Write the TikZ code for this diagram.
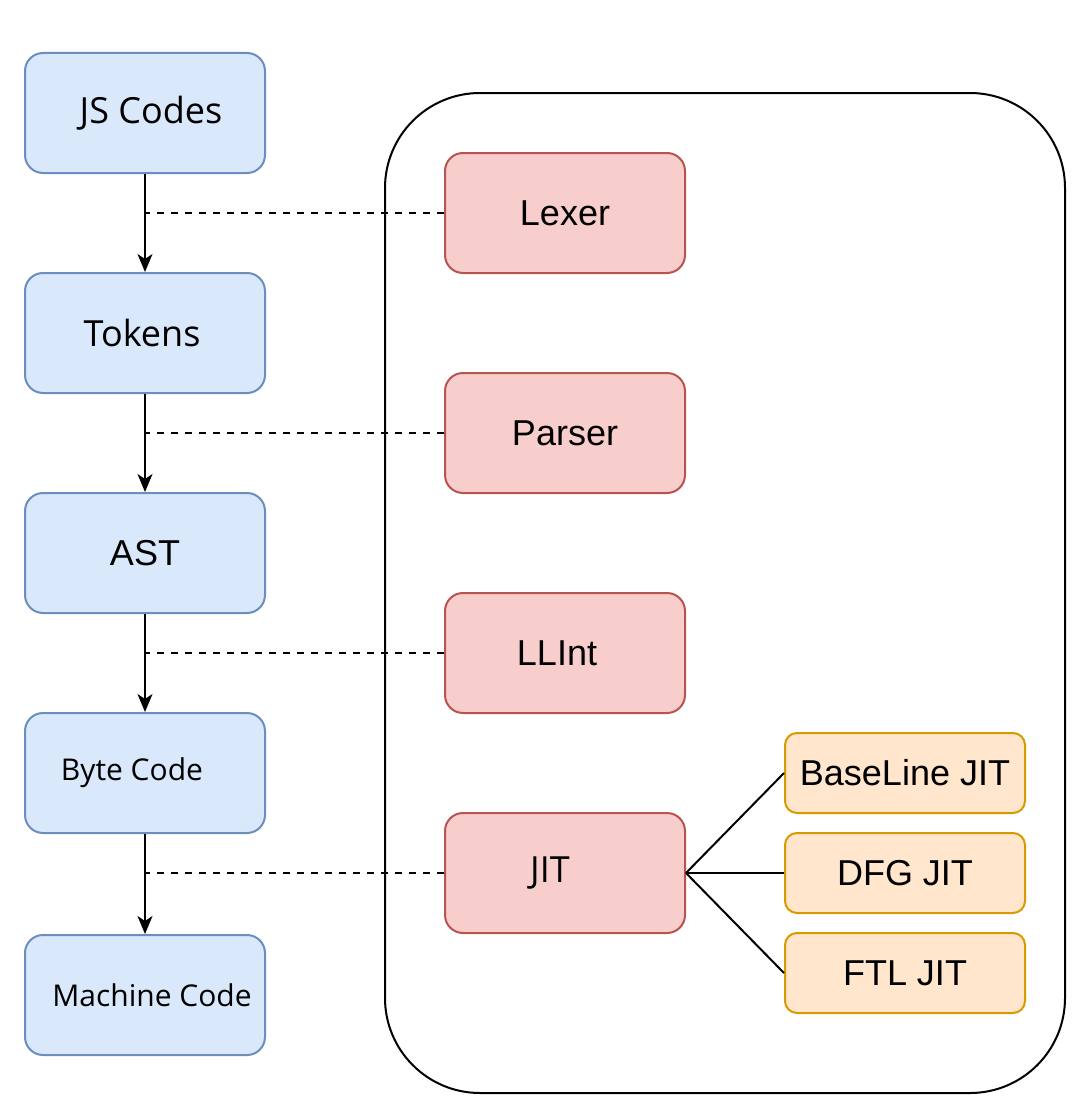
\documentclass[tikz,border=0pt]{standalone}
\usepackage{fontspec}
\usepackage{xcolor}
\usepackage{tikz}
\usetikzlibrary{arrows.meta,positioning}
\newfontfamily\uifont{Open Sans}
\newfontfamily\helfont{Liberation Sans}
\definecolor{bluefill}{HTML}{DAE8FC}
\definecolor{bluedraw}{HTML}{6C8EBF}
\definecolor{redfill}{HTML}{F8CECC}
\definecolor{reddraw}{HTML}{B85450}
\definecolor{orangefill}{HTML}{FFE6CC}
\definecolor{orangedraw}{HTML}{D79B00}
\begin{document}
\begin{tikzpicture}[x=1pt,y=-1pt,line width=2pt,
        >={Stealth[length=18pt,width=15pt,inset=5pt]},
        node distance=98pt,
        stage/.style={rectangle,rounded corners=18pt,draw=bluedraw,fill=bluefill,
          minimum width=240pt,minimum height=120pt,inner sep=0pt},
        tool/.style={rectangle,rounded corners=18pt,draw=reddraw,fill=redfill,
          minimum width=240pt,minimum height=120pt,inner sep=0pt},
        tier/.style={rectangle,rounded corners=12pt,draw=orangedraw,fill=orangefill,
          minimum width=240pt,minimum height=80pt,inner sep=0pt},
        big/.style={font=\uifont\fontsize{36}{43}\selectfont},
        small/.style={font=\uifont\fontsize{30}{36}\selectfont},
        sans/.style={font=\helfont\fontsize{36}{43}\selectfont},
        nudge/.style={execute at begin node={\hspace*{#1}}},
        link/.style={->},
        dash line/.style={dashed,dash pattern=on 7pt off 7pt}]

      \useasboundingbox (0,0) rectangle (1088,1116);

      % engine
      \node[draw,rounded corners=95pt,minimum width=680pt,minimum height=1000pt] (engine) at (725,593) {};

      % pipeline
      \node[stage,big,nudge=12pt] (js) at (145,113) {JS Codes};
      \node[stage,big,nudge=-6pt] (tokens) [below=of js] {Tokens};
      \node[stage,sans] (ast) [below=of tokens] {AST};
      \node[stage,small,nudge=-26pt] (bytecode) [below=of ast] {Byte Code};
      \node[stage,small,nudge=14pt] (machine) [below=100pt of bytecode] {Machine Code};

      % components
      \node[tool,sans] (lexer) at (565,213) {Lexer};
      \node[tool,sans] (parser) [below=of lexer] {Parser};
      \node[tool,sans,nudge=-16pt] (llint) [below=of parser] {LLInt};
      \node[tool,big,nudge=-30pt] (jit) [below=of llint] {JIT};

      \node[tier,sans] (dfg) [right=of jit] {DFG JIT};
      \node[tier,sans] (baseline) [above=18pt of dfg] {BaseLine JIT};
      \node[tier,sans] (ftl) [below=18pt of dfg] {FTL JIT};

      \draw[link] (js) -- (tokens);
      \draw[link] (tokens) -- (ast);
      \draw[link] (ast) -- (bytecode);
      \draw[link] (bytecode) -- (machine);

      \draw[dash line] (lexer.west) -- (lexer.west -| js.south);
      \draw[dash line] (parser.west) -- (parser.west -| js.south);
      \draw[dash line] (llint.west) -- (llint.west -| js.south);
      \draw[dash line] (jit.west) -- (jit.west -| js.south);

      \draw (jit.east) -- (baseline.west);
      \draw (jit.east) -- (dfg.west);
      \draw (jit.east) -- (ftl.west);
    \end{tikzpicture}
\end{document}
